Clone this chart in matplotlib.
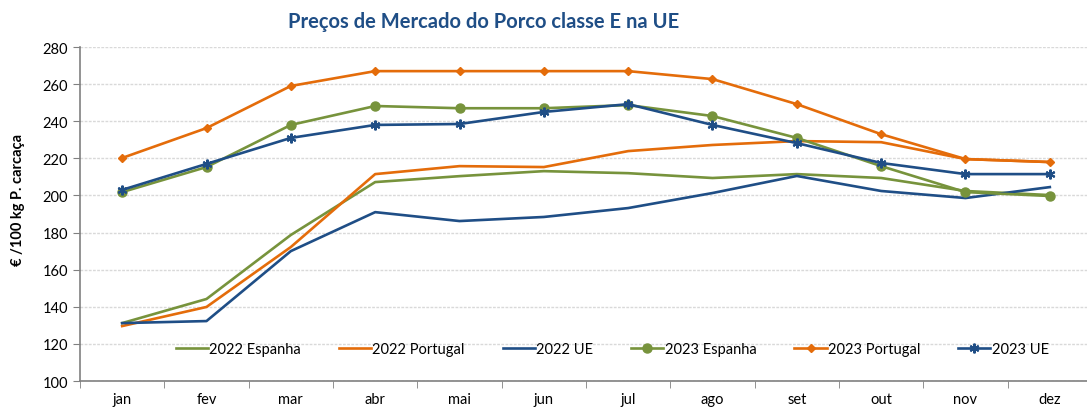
import numpy as np
import matplotlib
matplotlib.use('Agg')
import matplotlib.pyplot as plt

plt.rcParams['font.family'] = ['Lato', 'DejaVu Sans']

months = ['jan', 'fev', 'mar', 'abr', 'mai', 'jun',
          'jul', 'ago', 'set', 'out', 'nov', 'dez']

es_2022 = [131.2, 144.2, 178.7, 207.2, 210.4, 213.1, 212.0, 209.4, 211.5, 209.4, 202.4, 200.2]
pt_2022 = [129.6, 139.9, 172.2, 211.5, 215.8, 215.3, 223.9, 227.2, 229.3, 228.7, 219.6, 218.0]
ue_2022 = [131.2, 132.3, 170.0, 191.0, 186.2, 188.4, 193.2, 201.3, 210.5, 202.4, 198.6, 204.5]
es_2023 = [201.8, 215.3, 238.0, 248.2, 247.0, 247.0, 248.7, 242.8, 231.0, 215.8, 201.8, 199.7]
pt_2023 = [220.2, 236.3, 259.0, 267.0, 267.0, 267.0, 267.0, 262.7, 249.2, 233.0, 219.6, 218.0]
ue_2023 = [203.0, 217.0, 231.0, 238.0, 238.5, 245.0, 249.2, 238.0, 228.2, 217.5, 211.5, 211.5]

green = '#77933C'
orange = '#E46C0A'
blue = '#1F4E86'

fig = plt.figure(figsize=(10.87, 4.10), dpi=100)
ax = fig.add_axes([80 / 1087, 1 - 382 / 410, 1012 / 1087, 334 / 410])

x = np.arange(len(months))
lw = 1.9
ax.plot(x, es_2022, color=green, lw=lw, label='2022 Espanha')
ax.plot(x, pt_2022, color=orange, lw=lw, label='2022 Portugal')
ax.plot(x, ue_2022, color=blue, lw=lw, label='2022 UE')
ax.plot(x, es_2023, color=green, lw=lw, marker='o', markersize=6.5,
        label='2023 Espanha')
ax.plot(x, pt_2023, color=orange, lw=lw, marker='D', markersize=4.5,
        label='2023 Portugal')
ax.plot(x, ue_2023, color=blue, lw=lw, marker=(6, 2, 0), markersize=7,
        markeredgewidth=1.5, label='2023 UE')

ax.set_xlim(-0.5, 11.5)
ax.set_ylim(100, 280)
ax.set_yticks(range(100, 281, 20))
ax.set_xticks(x)
ax.set_xticklabels(months)
ax.set_xticks(np.arange(-0.5, 11.6, 1), minor=True)
ax.tick_params(axis='x', which='major', length=0, pad=8, labelsize=10.5)
ax.tick_params(axis='x', which='minor', length=5, color='#808080', direction='out')
ax.tick_params(axis='y', length=5, color='#808080', labelsize=10.5)

ax.grid(axis='y', color='#D9D9D9', linestyle=(0, (2, 1)), lw=1)
ax.set_axisbelow(True)
for side in ['top', 'right']:
    ax.spines[side].set_visible(False)
for side in ['left', 'bottom']:
    ax.spines[side].set_color('#808080')
    ax.spines[side].set_linewidth(1.2)

ax.set_ylabel('€ /100 kg P. carcaça', fontsize=10.5, fontweight='bold')
ax.yaxis.set_label_coords(-0.054, 0.545)

ax.legend(loc='center', bbox_to_anchor=(0.526, 0.095), ncol=6, frameon=False,
          fontsize=10.5, handlelength=2.2, handletextpad=0.1, columnspacing=2.6)

fig.text(484 / 1087, 1 - 22 / 410, 'Preços de Mercado do Porco classe E na UE',
         ha='center', va='center', fontsize=14.5, fontweight='bold',
         color='#1F4E86')

fig.savefig('out.png', dpi=100)
